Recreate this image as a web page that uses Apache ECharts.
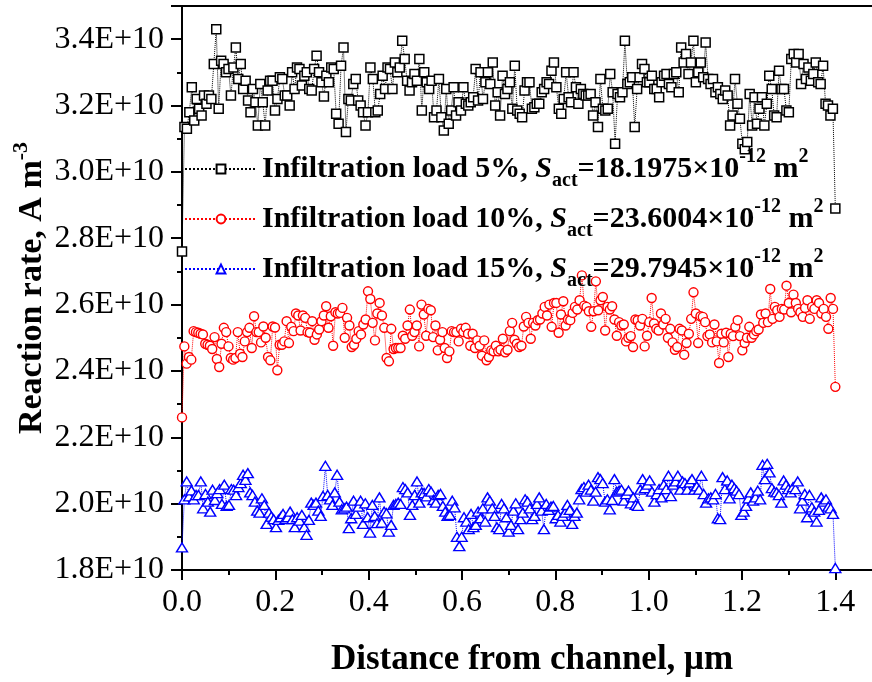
<!DOCTYPE html>
<html><head><meta charset="utf-8">
<script src="https://cdn.jsdelivr.net/npm/echarts@6/dist/echarts.min.js"></script>
<style>html,body{margin:0;padding:0;background:#fff}#c{width:872px;height:682px}</style>
</head><body><div id="c"></div>
<script>
// Reaction rate values in units of 1E+10 A m^-3, sampled evenly from 0 to 1.4 um
const black5 = [2.76,
3.135,3.13,3.18,3.255,3.155,3.22,3.19,3.17,3.23,3.205,
3.23,3.22,3.325,3.43,3.19,3.335,3.325,3.30,3.31,3.23,
3.315,3.375,3.28,3.325,3.25,3.275,3.215,3.18,3.25,3.21,
3.14,3.265,3.21,3.14,3.245,3.275,3.275,3.185,3.22,3.285,
3.28,3.23,3.23,3.20,3.30,3.25,3.315,3.31,3.26,3.29,
3.30,3.25,3.245,3.31,3.35,3.30,3.27,3.227,3.29,3.27,
3.315,3.31,3.175,3.145,3.32,3.375,3.12,3.22,3.215,3.265,
3.28,3.215,3.20,3.18,3.14,3.18,3.315,3.28,3.18,3.185,
3.235,3.29,3.25,3.315,3.31,3.25,3.33,3.30,3.315,3.395,
3.34,3.275,3.245,3.27,3.295,3.275,3.34,
3.185,3.30,3.27,3.25,3.275,3.165,3.185,3.28,3.165,3.125,
3.25,3.145,3.185,3.255,3.17,3.21,3.185,3.255,3.205,3.20,
3.21,3.225,3.31,3.215,3.30,3.22,3.27,3.30,3.265,3.33,
3.20,3.24,3.17,3.29,3.235,3.25,3.27,3.19,3.32,3.185,
3.175,3.165,3.245,3.27,3.27,3.19,3.195,3.205,3.205,3.24,
3.25,3.27,3.265,3.305,3.33,3.255,3.19,3.175,3.22,3.30,
3.225,3.21,3.30,3.255,3.205,3.25,3.235,3.23,3.23,3.235,
3.17,3.21,3.135,3.28,3.19,3.185,3.19,3.295,3.24,3.085,
3.235,3.225,3.24,3.395,3.265,3.27,3.285,3.135,3.25,3.285,
3.325,3.31,3.27,3.27,3.29,3.25,3.25,3.225,3.27,3.29,
3.295,3.265,3.255,3.295,3.30,3.24,
3.375,3.33,3.355,3.295,3.33,3.395,3.27,3.30,3.33,3.285,
3.39,3.28,3.265,3.28,3.24,3.255,3.235,3.22,3.245,3.23,
3.14,3.17,3.28,3.205,3.16,3.085,3.068,3.09,3.235,3.14,
3.225,3.145,3.19,3.225,3.14,3.205,3.29,3.25,3.17,3.165,
3.305,3.25,3.25,3.185,3.18,3.34,3.355,3.33,3.355,3.265,
3.325,3.28,3.315,3.275,3.295,3.33,3.27,3.265,3.32,3.205,
3.20,3.17,3.19,2.89];

const red10 = [2.26,
2.474,2.422,2.442,2.434,2.52,2.517,2.515,2.512,2.51,2.482,
2.479,2.476,2.466,2.502,2.436,2.412,2.482,2.53,2.517,2.474,
2.439,2.434,2.439,2.517,2.452,2.442,2.489,2.517,2.53,2.469,
2.565,2.517,2.517,2.486,2.534,2.50,2.442,2.432,2.534,2.531,
2.402,2.479,2.479,2.489,2.55,2.484,2.533,2.52,2.573,2.567,
2.522,2.567,2.56,2.517,2.515,2.55,2.494,2.51,2.525,2.55,
2.567,2.595,2.53,2.565,2.476,2.577,2.573,2.575,2.59,2.50,
2.56,2.537,2.472,2.479,2.497,2.52,2.51,2.54,2.555,2.64,
2.617,2.545,2.492,2.573,2.605,2.567,2.53,2.439,2.429,2.527,
2.466,2.469,2.469,2.469,2.506,2.497,2.537,2.585,2.506,2.517,
2.537,2.474,2.60,2.57,2.506,2.587,2.583,2.502,2.537,2.462,
2.494,2.517,2.469,2.439,2.459,2.52,2.517,2.517,2.489,2.527,
2.517,2.53,2.512,2.476,2.512,2.469,2.492,2.476,2.446,2.492,
2.432,2.442,2.462,2.459,2.476,
2.459,2.464,2.497,2.456,2.464,2.52,2.545,2.494,2.482,2.472,
2.476,2.534,2.563,2.545,2.497,2.545,2.537,2.553,2.555,2.573,
2.593,2.567,2.60,2.533,2.605,2.605,2.515,2.57,2.61,2.537,
2.555,2.553,2.575,2.593,2.585,2.613,2.688,2.597,2.593,2.58,
2.533,2.58,2.67,2.583,2.613,2.623,2.522,2.593,2.585,2.595,
2.555,2.506,2.547,2.537,2.54,2.489,2.50,2.505,2.472,2.555,
2.553,2.537,2.557,2.474,2.506,2.547,2.62,2.543,2.527,2.522,
2.573,2.54,2.557,2.50,2.527,2.486,2.464,2.472,2.527,2.522,
2.449,2.484,2.512,2.557,2.637,2.573,2.484,2.565,2.563,2.547,
2.505,2.51,2.486,2.54,2.489,2.424,2.512,2.486,2.515,2.442,
2.512,2.505,2.533,2.553,2.505,2.462,2.484,2.50,2.533,2.50,
2.51,2.52,2.525,2.57,2.545,2.573,2.547,2.647,2.557,2.593,
2.583,2.563,2.587,2.585,2.657,2.605,2.577,2.63,2.605,2.587,
2.577,2.563,2.59,2.613,2.557,2.593,2.587,2.613,2.605,2.573,
2.587,2.563,2.527,2.62,2.587,2.352];

const blue15 = [1.868,
2.013,2.067,2.022,2.04,2.013,2.026,2.026,2.067,1.986,2.029,
2.006,1.976,2.042,2.011,2.032,2.044,1.999,2.057,1.993,1.996,
2.044,2.042,2.026,2.05,2.062,2.087,2.072,2.092,2.034,2.026,
2.006,1.979,1.973,2.016,1.996,1.939,1.973,1.961,1.953,1.929,
1.951,1.959,1.969,1.953,1.959,1.976,1.953,1.929,1.959,1.949,
1.966,1.929,1.906,1.951,2.003,1.996,2.003,1.979,1.963,2.023,
2.114,2.026,2.013,1.996,2.034,2.087,2.006,1.983,1.986,1.991,
1.926,1.956,2.009,1.969,1.991,2.009,1.939,2.001,1.959,1.913,
1.996,1.963,1.941,2.019,1.943,1.976,1.971,1.916,1.936,1.996,
1.999,2.003,1.999,2.05,2.044,2.034,1.966,1.996,2.026,2.067,
2.003,2.034,2.032,2.022,2.044,2.036,2.011,2.003,2.026,2.029,
1.993,1.976,1.963,1.966,2.009,1.989,1.90,1.872,1.90,1.959,
1.946,1.923,1.969,1.929,1.936,1.976,1.956,1.986,1.946,2.019,
2.009,1.986,1.963,1.929,
1.923,1.999,1.986,1.959,1.916,1.936,1.979,2.001,1.923,1.953,
1.973,2.013,2.006,1.986,1.953,1.963,1.999,2.019,1.979,1.923,
1.999,1.981,1.991,1.993,1.956,1.966,1.946,1.963,1.973,1.996,
1.981,1.939,1.963,1.973,2.013,2.044,2.05,2.036,2.057,2.042,
2.009,2.036,2.08,2.074,2.062,2.006,2.013,1.983,2.011,2.074,
2.036,2.039,2.042,2.009,2.029,2.039,2.001,2.019,1.996,1.993,
2.042,2.074,2.047,2.057,2.07,2.036,2.006,2.029,2.044,2.019,
2.057,2.044,2.084,2.023,2.057,2.067,2.084,2.042,2.067,2.062,
2.042,2.064,2.074,2.042,2.052,2.042,2.084,2.029,2.003,2.016,
2.019,2.013,2.029,1.956,1.953,2.08,2.044,2.07,2.016,2.057,
2.047,2.039,2.029,1.966,1.976,1.993,2.016,2.034,2.009,2.019,
2.039,2.013,2.117,2.074,2.12,2.094,2.047,2.036,2.034,2.026,
2.003,2.07,2.057,2.044,2.034,2.05,2.044,2.067,1.986,2.009,
2.029,1.959,2.026,1.989,1.976,1.946,1.981,2.019,2.006,2.013,
1.991,1.986,1.969,1.806];

const seriesNames = ['Infiltration load 5%', 'Infiltration load 10%', 'Infiltration load 15%'];
const sActValues = ['18.1975', '23.6004', '29.7945'];
const xStart = 0, xEnd = 1.4;
const xTickValues = [0, 0.2, 0.4, 0.6, 0.8, 1.0, 1.2, 1.4];
const yTickValues = [1.8, 2.0, 2.2, 2.4, 2.6, 2.8, 3.0, 3.2, 3.4];

function toPairs(vals) {
  return vals.map((v, i) => [xStart + (xEnd - xStart) * i / (vals.length - 1), v]);
}

const FONT = 'Liberation Serif';
const chart = echarts.init(document.getElementById('c'), null, {renderer: 'canvas'});

const axisLineStyle = {color: '#000', width: 2};
chart.setOption({
  animation: false,
  backgroundColor: '#fff',
  grid: {left: 182, right: -10, top: 6, bottom: 112, containLabel: false, outerBoundsMode: 'none'},
  legend: {
    orient: 'vertical', left: 184, top: 147, padding: 0, itemGap: 6,
    itemWidth: 72, itemHeight: 11, selectedMode: false,
    data: seriesNames,
    formatter: function (name) {
      const i = seriesNames.indexOf(name);
      return '{b|' + name + ', }{i|S}{sub|act}{b|=' + sActValues[i] + '×10}{sup|-12}{b| m}{sup|2}';
    },
    textStyle: {
      fontFamily: FONT, fontWeight: 'bold', fontSize: 30, color: '#000', lineHeight: 44,
      rich: {
        b: {fontFamily: FONT, fontWeight: 'bold', fontSize: 30, lineHeight: 44, color: '#000'},
        i: {fontFamily: FONT, fontWeight: 'bold', fontStyle: 'italic', fontSize: 30, lineHeight: 44, color: '#000'},
        sub: {fontFamily: FONT, fontWeight: 'bold', fontSize: 20, lineHeight: 14, verticalAlign: 'bottom', color: '#000'},
        sup: {fontFamily: FONT, fontWeight: 'bold', fontSize: 20, lineHeight: 24, verticalAlign: 'top', color: '#000'}
      }
    }
  },
  xAxis: [{
    type: 'value', min: 0, max: 1.5, interval: 0.2,
    name: 'Distance from channel, μm', nameLocation: 'middle', nameGap: 70,
    nameTextStyle: {fontFamily: FONT, fontWeight: 'bold', fontSize: 35, color: '#000', lineHeight: 40},
    axisLine: {show: true, onZero: false, lineStyle: axisLineStyle},
    axisTick: {show: true, inside: false, length: 10, lineStyle: {color: '#000', width: 2}},
    minorTick: {show: true, splitNumber: 2, length: 5, lineStyle: {color: '#000', width: 2}},
    axisLabel: {
      fontFamily: FONT, fontSize: 32, color: '#000', margin: 17, showMaxLabel: false,
      formatter: v => (xTickValues.some(t => Math.abs(t - v) < 1e-9) ? v.toFixed(1) : '')
    },
    splitLine: {show: false}
  }, {
    type: 'value', min: 0, max: 1.5, position: 'top',
    axisLine: {show: true, onZero: false, lineStyle: axisLineStyle},
    axisTick: {show: false}, axisLabel: {show: false}, splitLine: {show: false}
  }],
  yAxis: {
    type: 'value', min: 1.8, max: 3.5, interval: 0.2,
    name: 'Reaction rate, A m{sup|-3}', nameLocation: 'middle', nameGap: 128, nameMoveOverlap: false,
    nameTextStyle: {
      fontFamily: FONT, fontWeight: 'bold', fontSize: 34, color: '#000', lineHeight: 44,
      rich: {sup: {fontFamily: FONT, fontWeight: 'bold', fontSize: 22, lineHeight: 24, verticalAlign: 'top', color: '#000'}}
    },
    axisLine: {show: true, onZero: false, lineStyle: axisLineStyle},
    axisTick: {show: true, inside: false, length: 11, lineStyle: {color: '#000', width: 2}},
    minorTick: {show: true, splitNumber: 2, length: 5, lineStyle: {color: '#000', width: 2}},
    axisLabel: {
      fontFamily: FONT, fontSize: 32, color: '#000', margin: 18, showMaxLabel: false,
      formatter: v => (yTickValues.some(t => Math.abs(t - v) < 1e-9) ? v.toFixed(1) + 'E+10' : '')
    },
    splitLine: {show: false}
  },
  series: [{
    name: seriesNames[0], type: 'line', data: toPairs(black5),
    symbol: 'rect', symbolSize: 9,
    lineStyle: {color: '#000', width: 1, type: 'dotted'},
    itemStyle: {color: '#fff', borderColor: '#000', borderWidth: 1.5},
    emphasis: {disabled: true}, z: 3
  }, {
    name: seriesNames[1], type: 'line', data: toPairs(red10),
    symbol: 'circle', symbolSize: 9,
    lineStyle: {color: '#ff0000', width: 1, type: 'dotted'},
    itemStyle: {color: '#fff', borderColor: '#ff0000', borderWidth: 1.4},
    emphasis: {disabled: true}, z: 3
  }, {
    name: seriesNames[2], type: 'line', data: toPairs(blue15),
    symbol: 'triangle', symbolSize: [11, 9],
    lineStyle: {color: '#0000ff', width: 1, type: 'dotted'},
    itemStyle: {color: '#fff', borderColor: '#0000ff', borderWidth: 1.4},
    emphasis: {disabled: true}, z: 3
  }]
});
</script>
</body></html>
